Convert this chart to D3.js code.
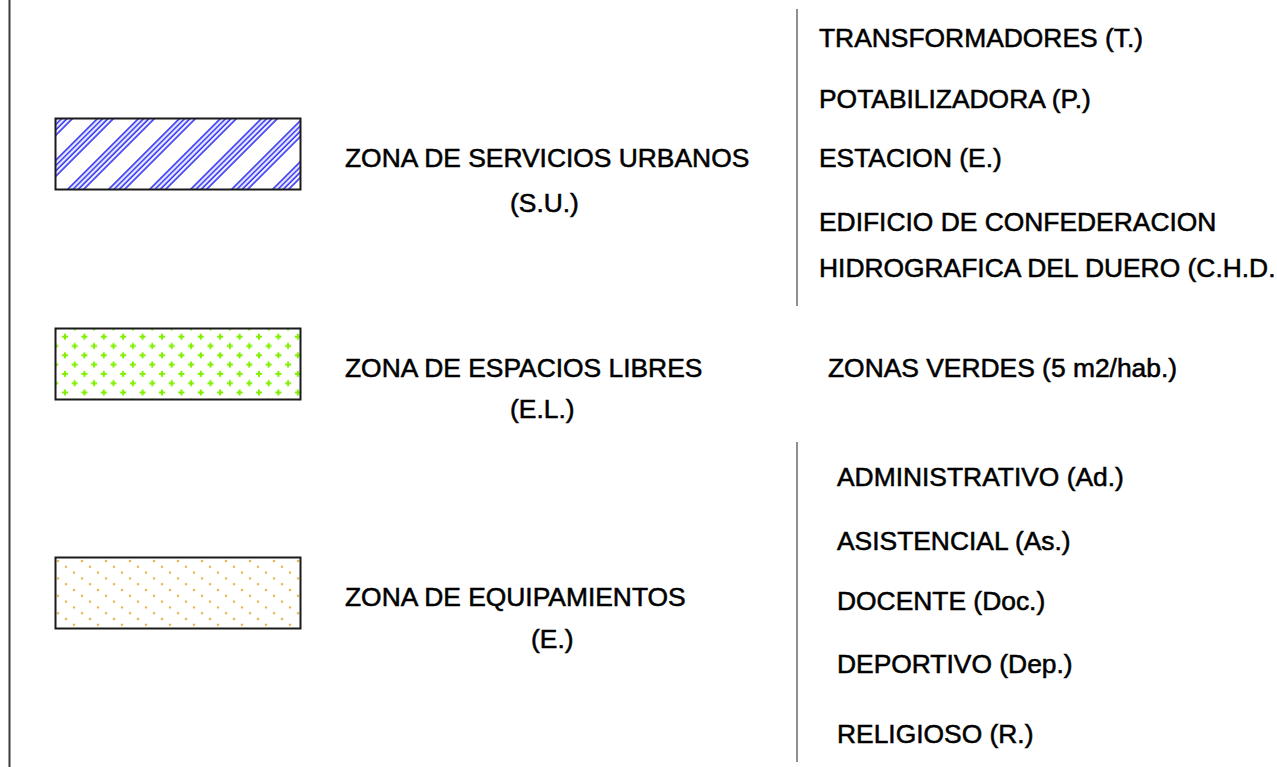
<!DOCTYPE html>
<html>
<head>
<meta charset="utf-8">
<script src="https://cdn.jsdelivr.net/npm/d3@7/dist/d3.min.js"></script>
<style>
  html, body { margin: 0; padding: 0; background: #fff; }
  svg { display: block; }
  text { font-family: "Liberation Sans", Arial, sans-serif; font-size: 26.4px; fill: #000; stroke: #000; stroke-width: 0.55px; }
</style>
</head>
<body>
<div id="chart"></div>
<script>
// ---- data ----
const zoneNames = ["ZONA DE SERVICIOS URBANOS", "ZONA DE ESPACIOS LIBRES", "ZONA DE EQUIPAMIENTOS"];
const zoneCodes = ["(S.U.)", "(E.L.)", "(E.)"];
const zonePatterns = ["hatch", "cross", "dots"];
const servicesItems = ["TRANSFORMADORES (T.)", "POTABILIZADORA (P.)", "ESTACION (E.)", "EDIFICIO DE CONFEDERACION", "HIDROGRAFICA DEL DUERO (C.H.D."];
const greenItems = ["ZONAS VERDES (5 m2/hab.)"];
const equipItems = ["ADMINISTRATIVO (Ad.)", "ASISTENCIAL (As.)", "DOCENTE (Doc.)", "DEPORTIVO (Dep.)", "RELIGIOSO (R.)"];

// ---- layout ----
const W = 1277, H = 767;
const svg = d3.select("#chart").append("svg").attr("width", W).attr("height", H);
svg.append("rect").attr("width", W).attr("height", H).attr("fill", "#fff");

const defs = svg.append("defs");

// diagonal hatch, groups of 4 lines
const hp = defs.append("pattern").attr("id", "hatch")
  .attr("patternUnits", "userSpaceOnUse")
  .attr("width", 41 / Math.SQRT2).attr("height", 10)
  .attr("patternTransform", "rotate(45)");
[11, 16.3, 21.6, 27].forEach(c => {
  const u = c / Math.SQRT2;
  hp.append("line").attr("x1", u).attr("x2", u).attr("y1", -1).attr("y2", 11)
    .attr("stroke", "#2626f0").attr("stroke-width", 1.6);
});

// green crosses
const cp = defs.append("pattern").attr("id", "cross")
  .attr("patternUnits", "userSpaceOnUse")
  .attr("x", 65).attr("y", 336.7)
  .attr("width", 19.4).attr("height", 18.6);
function crossAt(g, x, y) {
  g.append("rect").attr("x", x - 3).attr("y", y - 1).attr("width", 6).attr("height", 2).attr("fill", "#7ff000");
  g.append("rect").attr("x", x - 1).attr("y", y - 3).attr("width", 2).attr("height", 6).attr("fill", "#7ff000");
}
[[0, 0], [19.4, 0], [0, 18.6], [19.4, 18.6], [9.7, 9.3]].forEach(([x, y]) => crossAt(cp, x, y));

// tan dots
const dp = defs.append("pattern").attr("id", "dots")
  .attr("patternUnits", "userSpaceOnUse")
  .attr("x", 58).attr("y", 561)
  .attr("width", 24).attr("height", 17.4);
[[0, 0], [24, 0], [0, 17.4], [24, 17.4], [8, 5.8], [16, 11.6]].forEach(([x, y]) => {
  dp.append("circle").attr("cx", x).attr("cy", y).attr("r", 1.3).attr("fill", "#e2b852");
});

// left border line
svg.append("line").attr("x1", 9.5).attr("x2", 9.5).attr("y1", 0).attr("y2", H)
  .attr("stroke", "#3a3a3a").attr("stroke-width", 2);

// swatches
const swatchTop = [118, 328, 557];
const swatches = svg.selectAll("g.sw").data(zonePatterns).join("g");
swatches.append("rect")
  .attr("x", 55.5).attr("y", (d, i) => swatchTop[i] + 0.5)
  .attr("width", 245).attr("height", 71)
  .attr("fill", d => `url(#${d})`)
  .attr("stroke", "#1a1a1a").attr("stroke-width", 2);

// zone names
const nameBase = [167, 377, 606];
const codeBase = [212, 418, 648];
const codeX = [510, 510, 531];
svg.selectAll("text.zn").data(zoneNames).join("text").attr("class", "zn")
  .attr("x", 345).attr("y", (d, i) => nameBase[i]).text(d => d);
svg.selectAll("text.zc").data(zoneCodes).join("text").attr("class", "zc")
  .attr("x", (d, i) => codeX[i]).attr("y", (d, i) => codeBase[i]).text(d => d);

// right column separators
svg.append("line").attr("x1", 797).attr("x2", 797).attr("y1", 9).attr("y2", 306)
  .attr("stroke", "#6a6a6a").attr("stroke-width", 1.5);
svg.append("line").attr("x1", 797).attr("x2", 797).attr("y1", 442).attr("y2", 762)
  .attr("stroke", "#6a6a6a").attr("stroke-width", 1.5);

// right column items
const servBase = [47, 108, 167, 231, 277];
svg.selectAll("text.sv").data(servicesItems).join("text").attr("class", "sv")
  .attr("x", 819).attr("y", (d, i) => servBase[i]).text(d => d);
svg.selectAll("text.gr").data(greenItems).join("text").attr("class", "gr")
  .attr("x", 828).attr("y", 377).text(d => d);
const eqBase = [486, 550, 610, 673, 743];
svg.selectAll("text.eq").data(equipItems).join("text").attr("class", "eq")
  .attr("x", 837).attr("y", (d, i) => eqBase[i]).text(d => d);
</script>
</body>
</html>
